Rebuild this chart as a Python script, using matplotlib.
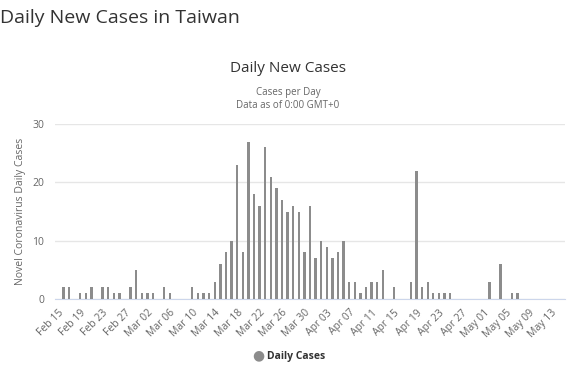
import numpy as np
import pandas as pd
import matplotlib
matplotlib.use("Agg")
import matplotlib.pyplot as plt
import matplotlib.dates as mdates

# daily new cases, one value per day starting Feb 15 2020
start_date = "2020-02-15"
cases = [0, 2, 2, 0, 1, 1, 2, 0, 2, 2, 1, 1, 0, 2, 5,          # Feb 15-29
         1, 1, 1, 0, 2, 1, 0, 0, 0, 2, 1, 1, 1, 3, 6, 8, 10,   # Mar 1-17
         23, 8, 27, 18, 16, 26, 21, 19, 17, 15, 16, 15, 8, 16,  # Mar 18-31
         7, 10, 9, 7, 8, 10, 3, 3, 1, 2, 3, 3, 5, 0, 2,         # Apr 1-15
         0, 0, 3, 22, 2, 3, 1, 1, 1, 1, 0, 0, 0, 0, 0,          # Apr 16-30
         0, 3, 0, 6, 0, 1, 1, 0, 0, 0, 0, 0, 0, 0, 0]           # May 1-15
dates = pd.date_range(start_date, periods=len(cases), freq="D")
tick_dates = pd.date_range(start_date, "2020-05-13", freq="4D")

plt.rcParams['font.family'] = ['Open Sans', 'DejaVu Sans']

fig = plt.figure(figsize=(5.76, 3.82), dpi=100)
ax = fig.add_axes([55/576, 1-299/382, 510/576, 175/382])

ax.bar(dates, cases, width=0.42, color='#8c8c8c', linewidth=0, zorder=3)

ax.set_ylim(0, 30)
ax.set_yticks([0, 10, 20, 30])
ax.set_xlim(dates[0] - pd.Timedelta(hours=12), dates[-1] + pd.Timedelta(hours=12))
ax.set_xticks(tick_dates)
ax.xaxis.set_major_formatter(mdates.DateFormatter('%b %d'))
plt.setp(ax.get_xticklabels(), rotation=45, ha='right', rotation_mode='anchor')

ax.grid(axis='y', color='#e6e6e6', linewidth=1, zorder=0)
for s in ['top', 'right', 'left']:
    ax.spines[s].set_visible(False)
ax.spines['bottom'].set_color('#ccd6eb')
ax.tick_params(axis='both', length=0, labelsize=7.5, colors='#666666')
ax.tick_params(axis='x', pad=6)
ax.tick_params(axis='y', pad=8)

ax.set_ylabel('Novel Coronavirus Daily Cases', fontsize=7.5, color='#666666', labelpad=4)

fig.text(0.0, 1-18/382, 'Daily New Cases in Taiwan', fontsize=14, color='#333333',
         ha='left', va='center')
fig.text(288/576, 1-69/382, 'Daily New Cases', fontsize=11, color='#333333',
         ha='center', va='center')
fig.text(288/576, 1-92/382, 'Cases per Day', fontsize=7, color='#666666',
         ha='center', va='center')
fig.text(288/576, 1-105/382, 'Data as of 0:00 GMT+0', fontsize=7, color='#666666',
         ha='center', va='center')

# legend
fig.text(258/576, 1-356/382, '\u25CF', fontsize=10, color='#8c8c8c', ha='center', va='center')
fig.text(267/576, 1-356/382, 'Daily Cases', fontsize=7.5, color='#333333',
         fontweight='bold', ha='left', va='center')

fig.savefig('out.png', dpi=100)
